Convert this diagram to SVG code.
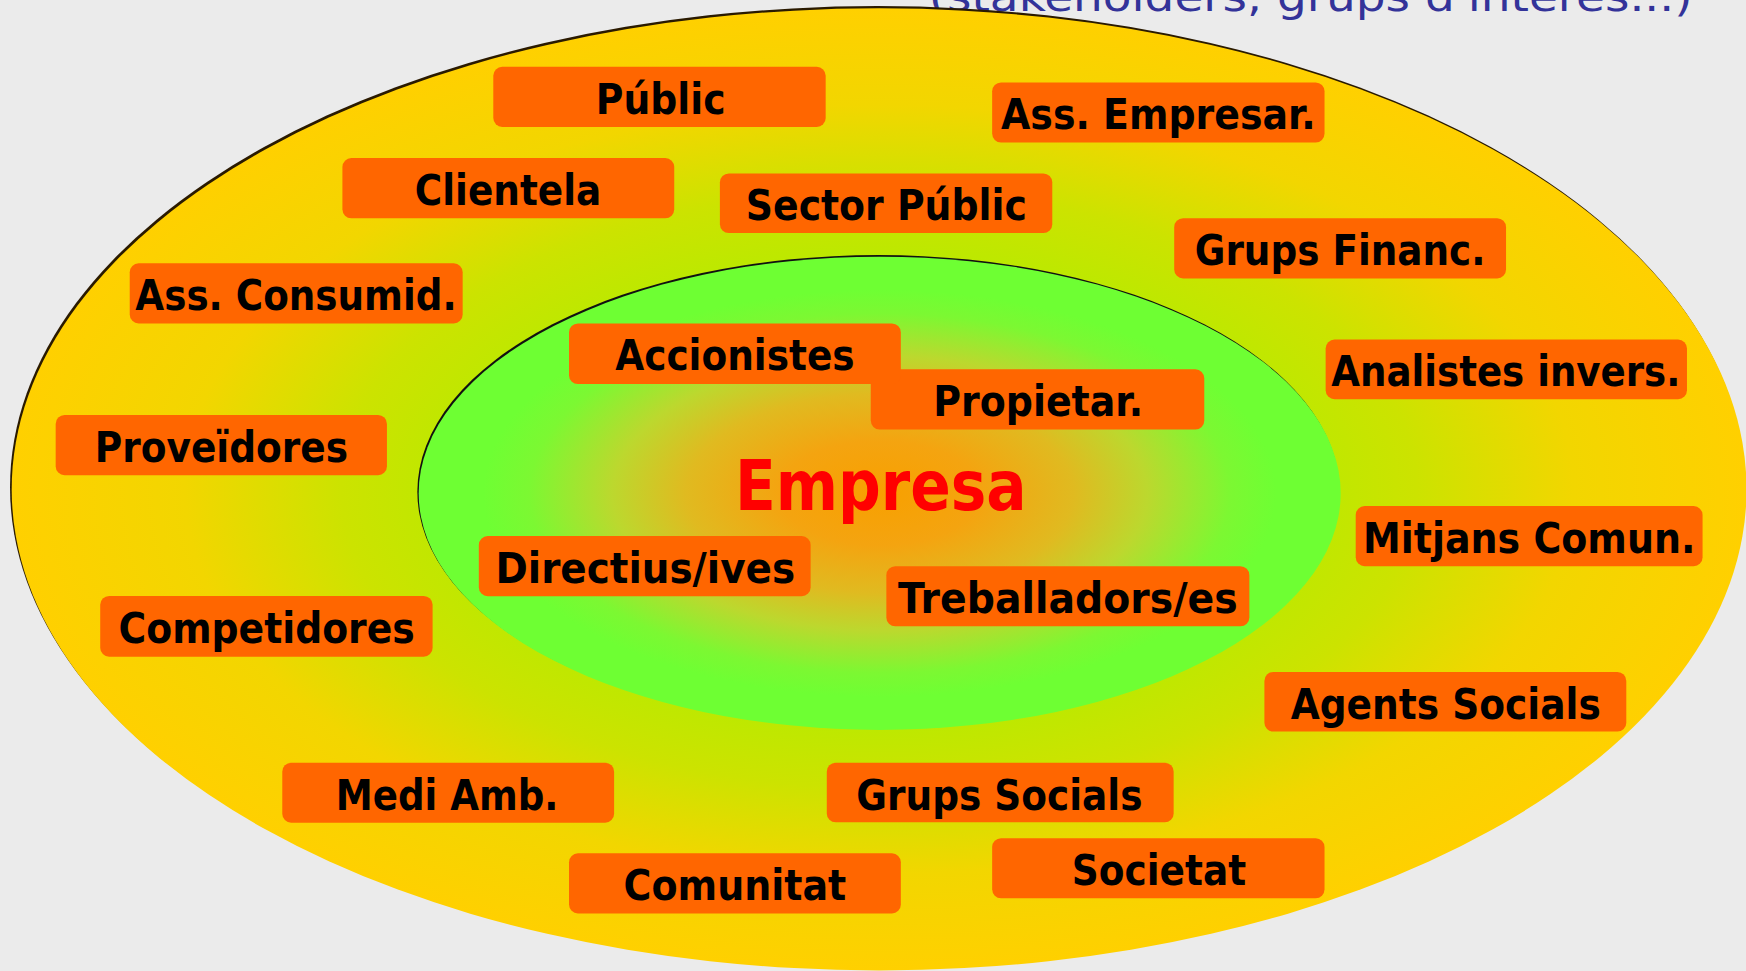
<svg xmlns="http://www.w3.org/2000/svg" width="1746" height="971" viewBox="0 0 1746 971">
<defs>
<radialGradient id="gOuter" cx="0.5" cy="0.5" r="0.5">
<stop offset="0" stop-color="#A8F010"/>
<stop offset="0.5" stop-color="#BEE800"/>
<stop offset="0.62" stop-color="#CCE300"/>
<stop offset="0.8" stop-color="#F2D600"/>
<stop offset="1" stop-color="#FFD000"/>
</radialGradient>
<radialGradient id="gInner" cx="0.5" cy="0.5" r="0.5">
<stop offset="0" stop-color="#F8A000"/>
<stop offset="0.22" stop-color="#F4A410"/>
<stop offset="0.42" stop-color="#E0BA20"/>
<stop offset="0.58" stop-color="#BCD82E"/>
<stop offset="0.76" stop-color="#7CF832"/>
<stop offset="0.86" stop-color="#6EFF33"/>
<stop offset="1" stop-color="#6EFF33"/>
</radialGradient>
<style>
.box{fill:#FF6600}
.lbl{font-family:Tahoma,"DejaVu Sans",sans-serif;font-weight:bold;font-size:38px;fill:#000;text-anchor:middle}
</style>
</defs>
<rect width="1746" height="971" fill="#EBEBEB"/>
<g transform="scale(1.11352)">
<text x="834" y="10" font-family="Tahoma, 'DejaVu Sans', sans-serif" font-size="36" fill="#333399" textLength="686" lengthAdjust="spacingAndGlyphs">(stakeholders, grups d'interès...)</text>
<g id="outer-ring">
<ellipse cx="788" cy="437.5" rx="779" ry="432" fill="#2a1a00"/>
<ellipse cx="789.5" cy="439.5" rx="779" ry="432" fill="url(#gOuter)"/>
</g>
<g id="inner-ring">
<ellipse cx="788.8" cy="441.5" rx="414" ry="212.5" fill="#111"/>
<ellipse cx="790" cy="443" rx="414" ry="212.5" fill="url(#gInner)"/>
</g>
<g id="n-public"><rect class="box" x="443" y="60" width="298.5" height="54" rx="8"/><text class="lbl" x="593.3" y="102" textLength="116.5" lengthAdjust="spacingAndGlyphs">Públic</text></g>
<g id="n-ass-empresar"><rect class="box" x="891" y="74" width="298.5" height="54" rx="8"/><text class="lbl" x="1040.3" y="116" textLength="282.6" lengthAdjust="spacingAndGlyphs">Ass. Empresar.</text></g>
<g id="n-clientela"><rect class="box" x="307.5" y="142" width="298" height="54" rx="8"/><text class="lbl" x="456.3" y="184" textLength="167.5" lengthAdjust="spacingAndGlyphs">Clientela</text></g>
<g id="n-sector-public"><rect class="box" x="646.5" y="155.7" width="298.5" height="53.6" rx="8"/><text class="lbl" x="796" y="197.7" textLength="252.5" lengthAdjust="spacingAndGlyphs">Sector Públic</text></g>
<g id="n-grups-financ"><rect class="box" x="1054.5" y="196" width="298" height="54" rx="8"/><text class="lbl" x="1203.5" y="238" textLength="261" lengthAdjust="spacingAndGlyphs">Grups Financ.</text></g>
<g id="n-ass-consumid"><rect class="box" x="116.5" y="236.5" width="299" height="54" rx="8"/><text class="lbl" x="265.8" y="278.8" textLength="288.5" lengthAdjust="spacingAndGlyphs">Ass. Consumid.</text></g>
<g id="n-propietar"><rect class="box" x="782" y="331.7" width="299.5" height="54" rx="8"/><text class="lbl" x="932.3" y="373.8" textLength="188.5" lengthAdjust="spacingAndGlyphs">Propietar.</text></g>
<g id="n-accionistes"><rect class="box" x="511" y="290.5" width="298" height="54.4" rx="8"/><text class="lbl" x="660" y="332.5" textLength="215" lengthAdjust="spacingAndGlyphs">Accionistes</text></g>
<g id="n-analistes"><rect class="box" x="1190.5" y="305" width="324.5" height="53.5" rx="8"/><text class="lbl" x="1352.3" y="347" textLength="313.5" lengthAdjust="spacingAndGlyphs">Analistes invers.</text></g>
<g id="n-proveidores"><rect class="box" x="50" y="372.7" width="297.5" height="54" rx="8"/><text class="lbl" x="198.8" y="414.8" textLength="227.5" lengthAdjust="spacingAndGlyphs">Proveïdores</text></g>
<g id="n-mitjans"><rect class="box" x="1217.5" y="454.5" width="311.5" height="54" rx="8"/><text class="lbl" x="1373.3" y="497" textLength="298.6" lengthAdjust="spacingAndGlyphs">Mitjans Comun.</text></g>
<g id="n-directius"><rect class="box" x="430" y="481.4" width="298" height="54" rx="8"/><text class="lbl" x="579.5" y="523.5" textLength="269" lengthAdjust="spacingAndGlyphs">Directius/ives</text></g>
<g id="n-treballadors"><rect class="box" x="796" y="508.5" width="326" height="54" rx="8"/><text class="lbl" x="959" y="550.8" textLength="305" lengthAdjust="spacingAndGlyphs">Treballadors/es</text></g>
<g id="n-competidores"><rect class="box" x="90" y="535.2" width="298.5" height="54.5" rx="8"/><text class="lbl" x="239.5" y="577.4" textLength="266" lengthAdjust="spacingAndGlyphs">Competidores</text></g>
<g id="n-agents-socials"><rect class="box" x="1135.5" y="603.5" width="325" height="53.5" rx="8"/><text class="lbl" x="1298.3" y="645.7" textLength="278.5" lengthAdjust="spacingAndGlyphs">Agents Socials</text></g>
<g id="n-medi-amb"><rect class="box" x="253.5" y="685" width="298" height="53.8" rx="8"/><text class="lbl" x="401.5" y="727" textLength="200" lengthAdjust="spacingAndGlyphs">Medi Amb.</text></g>
<g id="n-grups-socials"><rect class="box" x="742.5" y="685" width="311.5" height="53.5" rx="8"/><text class="lbl" x="897.5" y="727" textLength="257" lengthAdjust="spacingAndGlyphs">Grups Socials</text></g>
<g id="n-comunitat"><rect class="box" x="511" y="766.3" width="298" height="54" rx="8"/><text class="lbl" x="660" y="808.3" textLength="200" lengthAdjust="spacingAndGlyphs">Comunitat</text></g>
<g id="n-societat"><rect class="box" x="891" y="752.7" width="298.5" height="54" rx="8"/><text class="lbl" x="1040.8" y="794.8" textLength="156.5" lengthAdjust="spacingAndGlyphs">Societat</text></g>
<g id="n-empresa"><text x="791" y="458" font-family="Tahoma, 'DejaVu Sans', sans-serif" font-weight="bold" font-size="62" fill="#FF0000" text-anchor="middle" textLength="262" lengthAdjust="spacingAndGlyphs">Empresa</text></g>
</g>
</svg>
